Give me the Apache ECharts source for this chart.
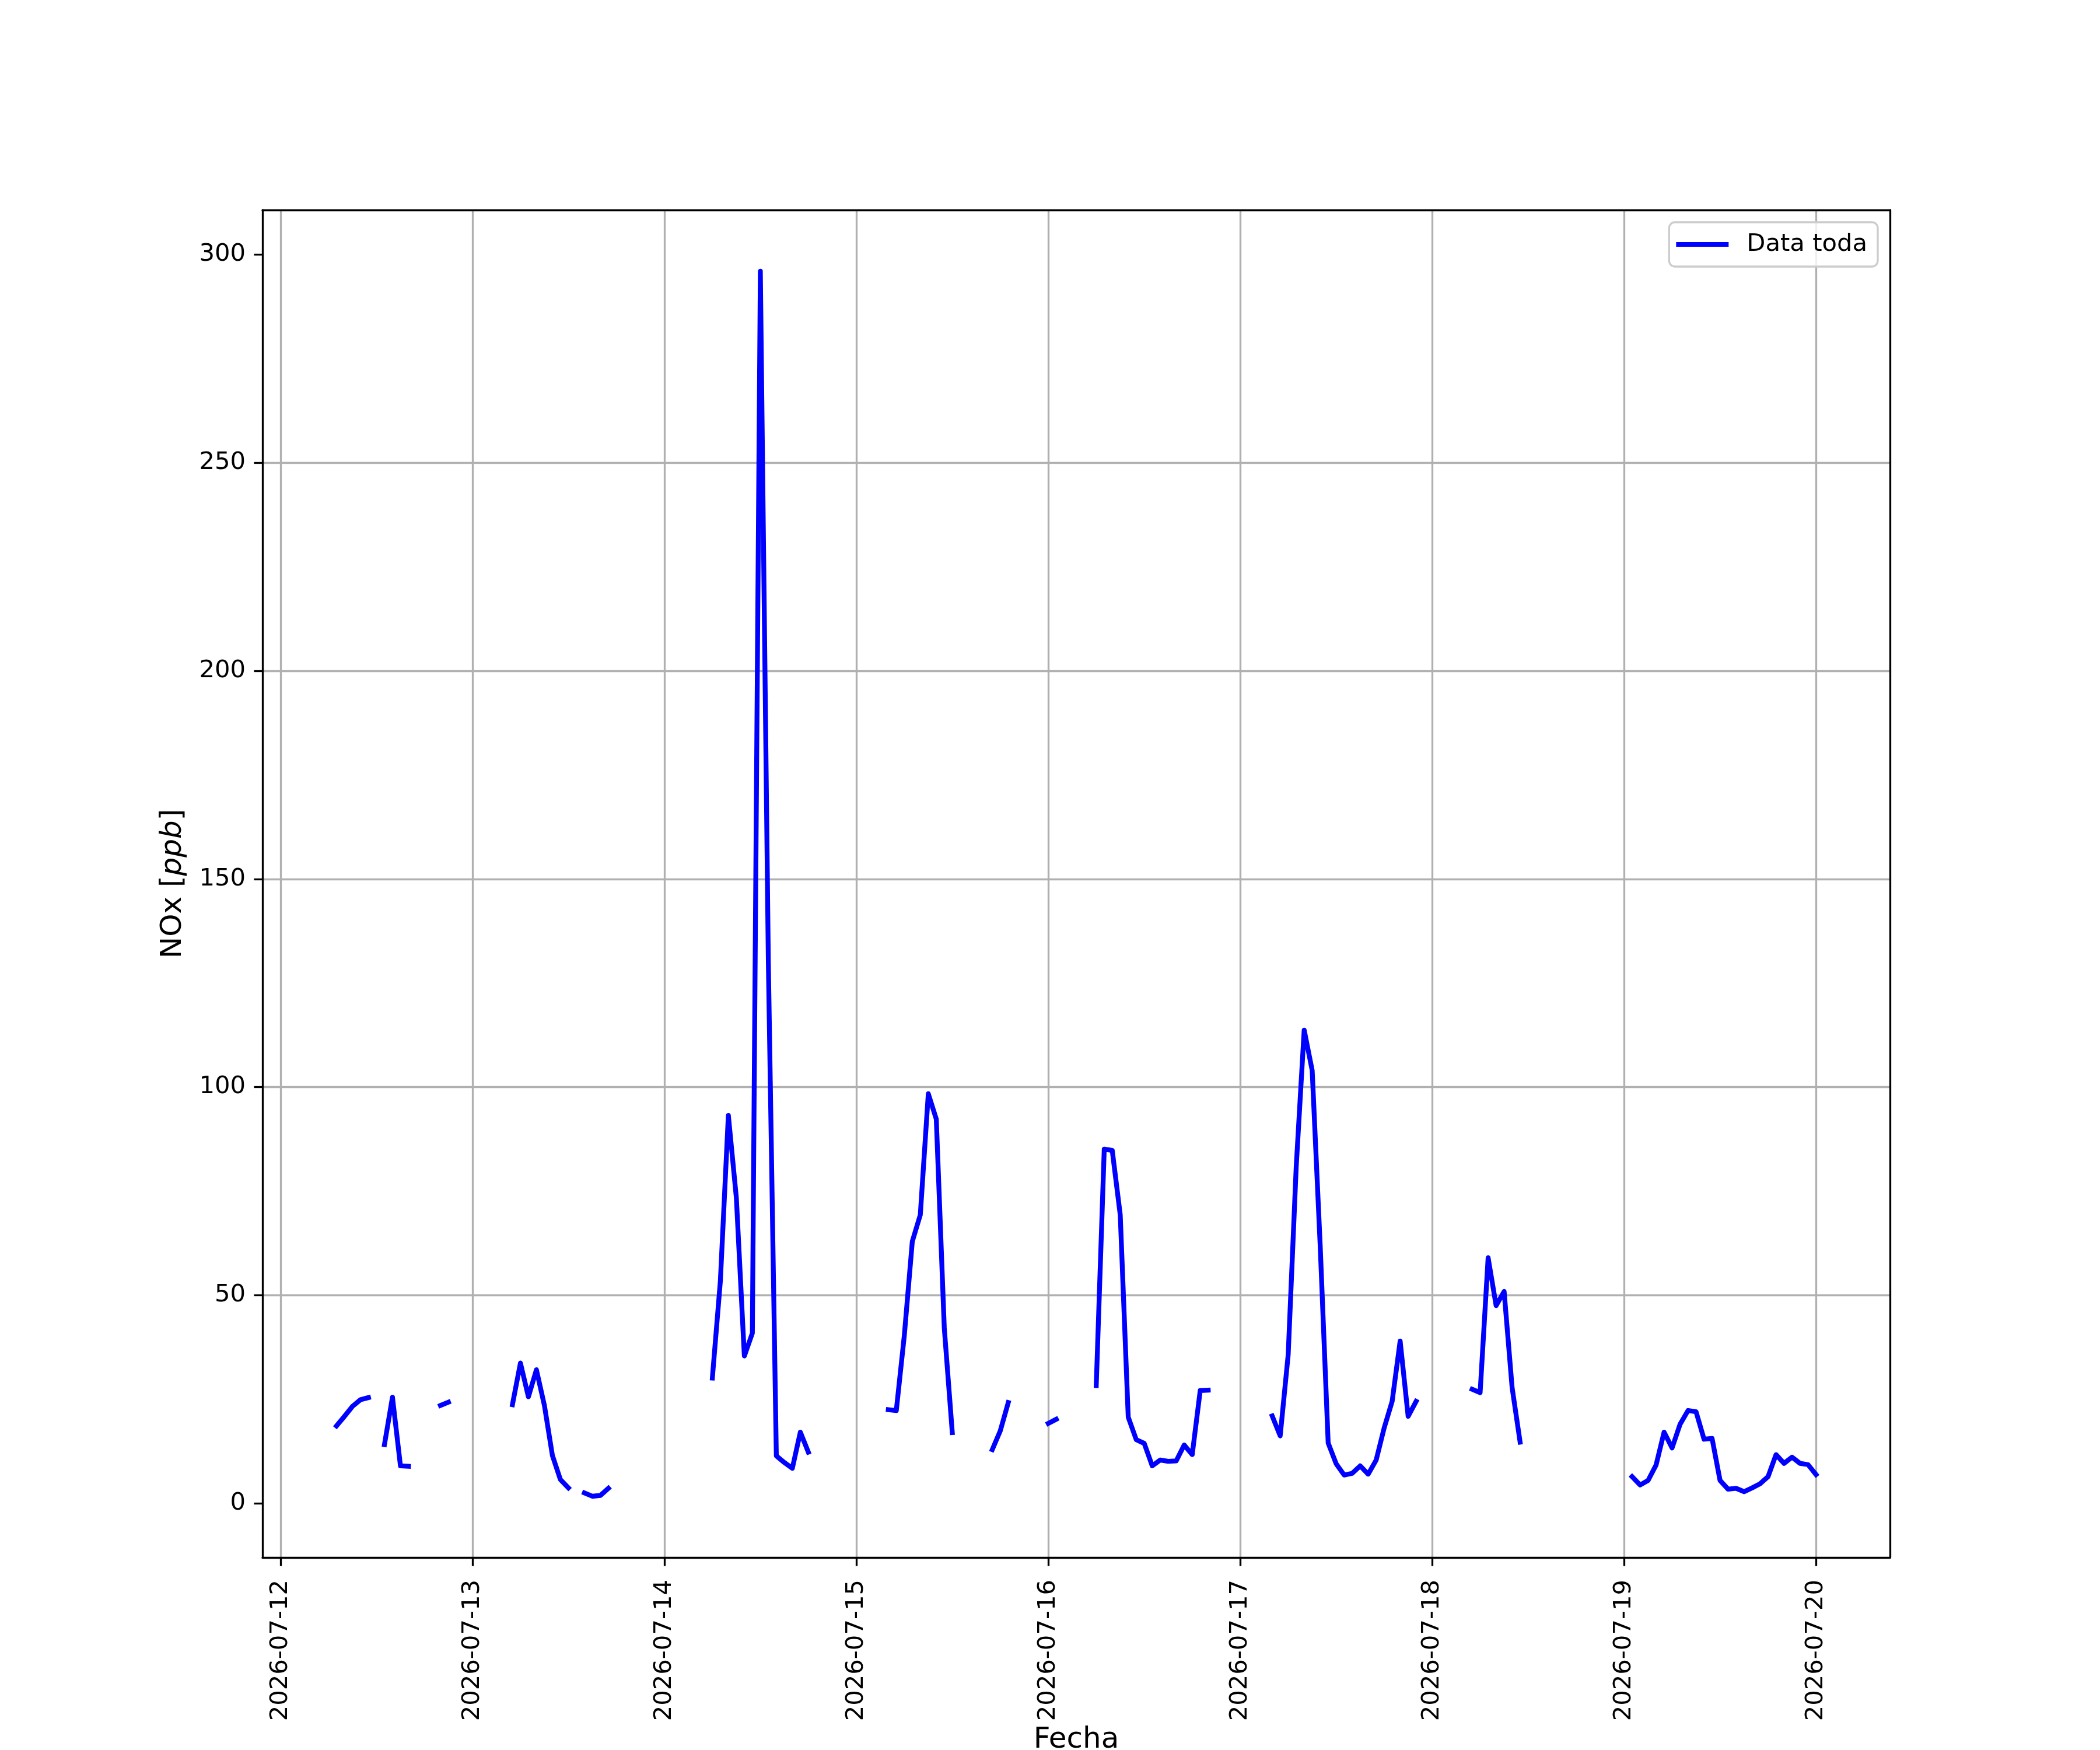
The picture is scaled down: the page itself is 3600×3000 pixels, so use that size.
<!DOCTYPE html>
<html>
<head>
<meta charset="utf-8">
<script src="https://cdn.jsdelivr.net/npm/echarts@6/dist/echarts.min.js"></script>
<style>
  html, body { margin: 0; padding: 0; background: #ffffff; }
  #chart { width: 3600px; height: 3000px; }
</style>
</head>
<body>
<div id="chart"></div>
<script>
// Hourly NOx values [ppb]; null = missing hour
const seriesName = 'Data toda';
const firstTime = '2026-07-12T07:00:00';   // first hour of the record
const day12 = [18.6, 20.9, 23.3, 24.9, 25.4, null, 14.1, 25.5, 9.0, 8.9, null, null, null, 23.5, 24.3, null, null]; // 07:00-23:00
const day13 = [null, null, null, null, null, 23.7, 33.7, 25.6, 32.1, 23.5, 11.5, 5.7, 3.7, null, 2.5, 1.7, 1.9, 3.6, null, null, null, null, null, null];
const day14 = [null, null, null, null, null, null, 30.1, 53.4, 93.2, 73.4, 35.4, 40.9, 296.0, 130.0, 11.4, 9.8, 8.4, 17.1, 12.3, null, null, null, null, null];
const day15 = [null, null, null, null, 22.5, 22.3, 40.3, 62.9, 69.3, 98.4, 92.3, 42.1, 17.0, null, null, null, null, 12.9, 17.4, 24.2, null, null, null, null];
const day16 = [19.2, 20.2, null, null, null, null, 28.3, 85.1, 84.8, 69.3, 20.7, 15.3, 14.4, 9.0, 10.4, 10.1, 10.2, 14.0, 11.7, 27.1, 27.2, null, null, null];
const day17 = [null, null, null, null, 21.0, 16.2, 35.7, 80.7, 113.7, 104.0, 62.0, 14.5, 9.5, 6.8, 7.2, 9.0, 7.0, 10.4, 18.1, 24.5, 39.0, 20.9, 24.5, null];
const day18 = [null, null, null, null, null, 27.4, 26.6, 59.0, 47.5, 50.9, 27.8, 14.7, null, null, null, null, null, null, null, null, null, null, null, null];
const day19 = [null, 6.4, 4.4, 5.5, 9.2, 17.1, 13.3, 19.0, 22.3, 22.0, 15.4, 15.6, 5.5, 3.4, 3.6, 2.8, 3.7, 4.7, 6.4, 11.7, 9.6, 11.1, 9.6, 9.3];
const day20 = [6.9]; // 00:00

// Y tick positions
const yTickValues = [0, 50, 100, 150, 200, 250, 300];

const values = [].concat(day12, day13, day14, day15, day16, day17, day18, day19, day20);
const HOUR = 3600 * 1000;
const DAY = 24 * HOUR;
const t0 = new Date(firstTime).getTime();
const data = values.map((v, i) => [t0 + i * HOUR, v]);

const tStart = data[0][0];
const tEnd = data[data.length - 1][0];
const xPad = 0.05 * (tEnd - tStart);
const numeric = values.filter(v => v !== null);
const vMin = Math.min.apply(null, numeric);
const vMax = Math.max.apply(null, numeric);
const yPad = 0.05 * (vMax - vMin);

function pad2(n) { return (n < 10 ? '0' : '') + n; }

const chart = echarts.init(document.getElementById('chart'), null, { renderer: 'canvas', devicePixelRatio: 1 });
const FONT = 'DejaVu Sans';
const TICK_FS = 41.7;
const LABEL_FS = 50;
const LW = 3.3;

chart.setOption({
  animation: false,
  backgroundColor: '#ffffff',
  grid: {
    left: 450, right: 360, top: 360, bottom: 330,
    show: false,
    containLabel: false,
    outerBoundsMode: 'none'
  },
  legend: {
    right: 381, top: 381,
    icon: 'rect', itemWidth: 90, itemHeight: 8,
    padding: [17, 18, 17, 12],
    backgroundColor: 'rgba(255,255,255,0.8)',
    borderColor: '#cccccc', borderWidth: LW, borderRadius: 10,
    textStyle: { fontFamily: FONT, fontSize: TICK_FS, color: '#000000', padding: [0, 0, 0, 26] },
    data: [seriesName]
  },
  xAxis: [{
    type: 'time',
    position: 'bottom',
    min: tStart - xPad,
    max: tEnd + xPad,
    minInterval: DAY, maxInterval: DAY,
    splitNumber: 9,
    name: 'Fecha', nameLocation: 'middle', nameGap: 283,
    nameTextStyle: { fontFamily: FONT, fontSize: LABEL_FS, color: '#000000' },
    axisLine: { onZero: false, lineStyle: { color: '#000000', width: LW } },
    axisTick: { show: true, inside: false, length: 14.6, lineStyle: { color: '#000000', width: LW } },
    axisLabel: {
      rotate: 90, margin: 38, fontFamily: FONT, fontSize: TICK_FS, color: '#000000',
      showMinLabel: false, showMaxLabel: false,
      formatter: function (val) {
        const d = new Date(val);
        return d.getFullYear() + '-' + pad2(d.getMonth() + 1) + '-' + pad2(d.getDate());
      }
    },
    splitLine: { show: true, showMinLine: false, showMaxLine: false, lineStyle: { color: '#b0b0b0', width: LW } },
    z: 3
  }, {
    type: 'time',
    position: 'top',
    min: tStart - xPad,
    max: tEnd + xPad,
    axisLine: { onZero: false, lineStyle: { color: '#000000', width: LW } },
    axisTick: { show: false },
    axisLabel: { show: false },
    splitLine: { show: false },
    z: 3
  }],
  yAxis: [{
    type: 'value',
    position: 'left',
    min: vMin - yPad,
    max: vMax + yPad,
    splitNumber: 6,
    name: 'NOx [{i|ppb}]', nameLocation: 'middle', nameGap: 128, nameRotate: 90,
    nameTextStyle: {
      fontFamily: FONT, fontSize: LABEL_FS, color: '#000000',
      rich: { i: { fontFamily: FONT, fontStyle: 'italic', fontSize: LABEL_FS, color: '#000000' } }
    },
    axisLine: { show: true, onZero: false, lineStyle: { color: '#000000', width: LW } },
    axisTick: { show: true, inside: false, length: 14.6, customValues: yTickValues, lineStyle: { color: '#000000', width: LW } },
    axisLabel: {
      margin: 29, fontFamily: FONT, fontSize: TICK_FS, color: '#000000',
      customValues: yTickValues
    },
    splitLine: { show: true, showMinLine: false, showMaxLine: false, lineStyle: { color: '#b0b0b0', width: LW } },
    z: 3
  }, {
    type: 'value',
    position: 'right',
    min: vMin - yPad,
    max: vMax + yPad,
    axisLine: { show: true, onZero: false, lineStyle: { color: '#000000', width: LW } },
    axisTick: { show: false },
    axisLabel: { show: false },
    splitLine: { show: false },
    z: 3
  }],
  series: [{
    name: seriesName,
    type: 'line',
    xAxisIndex: 0,
    yAxisIndex: 0,
    data: data,
    showSymbol: false,
    symbol: 'none',
    connectNulls: false,
    color: '#0000ff',
    lineStyle: { color: '#0000ff', width: 8.3, cap: 'square', join: 'round' },
    emphasis: { disabled: true }
  }]
});
</script>
</body>
</html>
